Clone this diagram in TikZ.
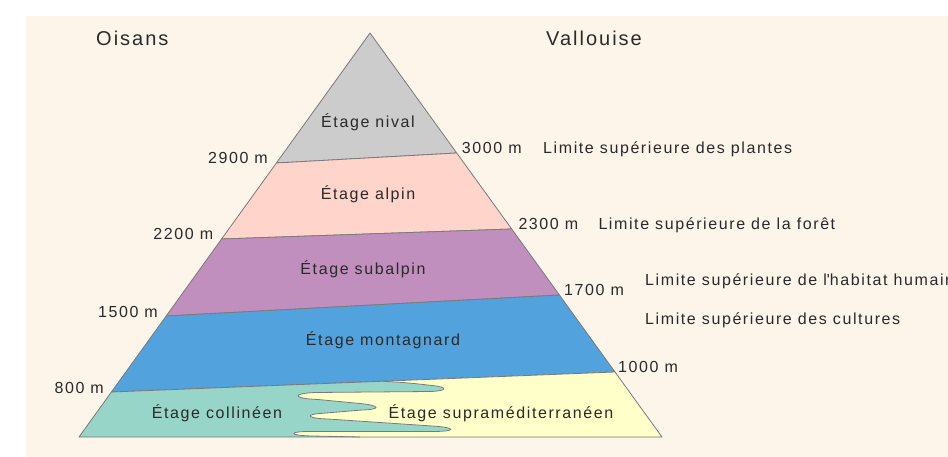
\documentclass[tikz,border=0pt]{standalone}
\usepackage{fontspec}
\setmainfont{Liberation Sans}[LetterSpace=10]
\definecolor{bgbeige}{HTML}{FDF4EA}
\definecolor{niv}{HTML}{CCCCCC}
\definecolor{alp}{HTML}{FFD4CB}
\definecolor{sub}{HTML}{C08FBE}
\definecolor{mon}{HTML}{52A3DD}
\definecolor{col}{HTML}{97D5C8}
\definecolor{sup}{HTML}{FFFFC9}
\definecolor{edge}{HTML}{7A7A7A}
\definecolor{txt}{HTML}{2A2A2A}
\begin{document}
\begin{tikzpicture}[x=1pt,y=-1pt,
  layer/.style={draw=edge,line width=0.8pt,line join=round},
  lbl/.style={anchor=base,text=txt,inner sep=0pt,font=\fontsize{16}{19}\selectfont},
  alt/.style={text=txt,inner sep=0pt,font=\fontsize{16}{19}\selectfont},
  ttl/.style={anchor=base west,text=txt,inner sep=0pt,font=\fontsize{20}{24}\selectfont}]
\useasboundingbox (0,0) rectangle (948,457);
\fill[bgbeige] (26,16) rectangle (948,457);
% corners
\coordinate (apex) at (370,33);
\coordinate (l1) at (276.4,163); \coordinate (r1) at (456.7,153);
\coordinate (l2) at (221.6,239); \coordinate (r2) at (511.7,229);
\coordinate (l3) at (166.2,316); \coordinate (r3) at (559.4,295);
\coordinate (l4) at (111.4,392); \coordinate (r4) at (615,372);
\coordinate (bl) at (79,437);    \coordinate (br) at (662,437);
\coordinate (ws) at (383,381.2); \coordinate (we) at (360,437);
% layers
\filldraw[layer,fill=niv] (apex) -- (r1) -- (l1) -- cycle;
\filldraw[layer,fill=alp] (l1) -- (r1) -- (r2) -- (l2) -- cycle;
\filldraw[layer,fill=sub] (l2) -- (r2) -- (r3) -- (l3) -- cycle;
\filldraw[layer,fill=mon] (l3) -- (r3) -- (r4) -- (l4) -- cycle;
\fill[col] (l4) -- (r4) -- (br) -- (bl) -- cycle;
\def\wavy{(ws) .. controls (410,383) .. (432,385.5)
  .. controls (448,387) and (448,391) .. (430,391.5) -- (315,392.5)
  .. controls (292,393.5) and (292,398.5) .. (318,399.5) -- (360,403.5)
  .. controls (381,405.5) and (381,409.5) .. (362,410) -- (320,413.5)
  .. controls (305,414.5) and (307,418.5) .. (328,419) -- (432,426)
  .. controls (457,427.5) and (457,431.5) .. (432,431.5) -- (306,431.5)
  .. controls (288,432) and (290,435.5) .. (312,436) -- (we)}
\fill[sup] \wavy -- (br) -- (r4) -- cycle;
\draw[edge,line width=0.8pt] \wavy;
\draw[layer] (l4) -- (r4) -- (br) -- (bl) -- cycle;
% titles
\node[ttl] (oisans) at (96,45.5) {Oisans};
\node[ttl] (vallouise) at (546,45.5) {Vallouise};
% stage names
\node[lbl] (nival) at (368,128) {Étage nival};
\node[lbl] (alpin) at (368,200) {Étage alpin};
\node[lbl] (subalpin) at (363,275) {Étage subalpin};
\node[lbl] (montagnard) at (383,345) {Étage montagnard};
\node[lbl] (collineen) at (217,418.3) {Étage collinéen};
\node[lbl] (supramed) at (501,418.3) {Étage supraméditerranéen};
% altitudes left
\node[alt,anchor=base east] (a2900) at (268,164) {2900 m};
\node[alt,anchor=base east] (a2200) at (213.3,240) {2200 m};
\node[alt,anchor=base east] (a1500) at (158,317) {1500 m};
\node[alt,anchor=base east] (a800) at (104,393) {800 m};
% altitudes right
\node[alt,anchor=base west] (a3000) at (461.7,153.3) {3000 m};
\node[alt,anchor=base west] (a2300) at (518.3,230) {2300 m};
\node[alt,anchor=base west] (a1700) at (564,295) {1700 m};
\node[alt,anchor=base west] (a1000) at (618,372) {1000 m};
% limits
\node[alt,anchor=base west] (lplantes) at (543,153.3) {Limite supérieure des plantes};
\node[alt,anchor=base west] (lforet) at (598.3,230) {Limite supérieure de la forêt};
\node[alt,anchor=base west] (lhabitat) at (645,286) {Limite supérieure de l\textquotesingle habitat humain};
\node[alt,anchor=base west] (lcultures) at (645,324) {Limite supérieure des cultures};
\end{tikzpicture}
\end{document}
